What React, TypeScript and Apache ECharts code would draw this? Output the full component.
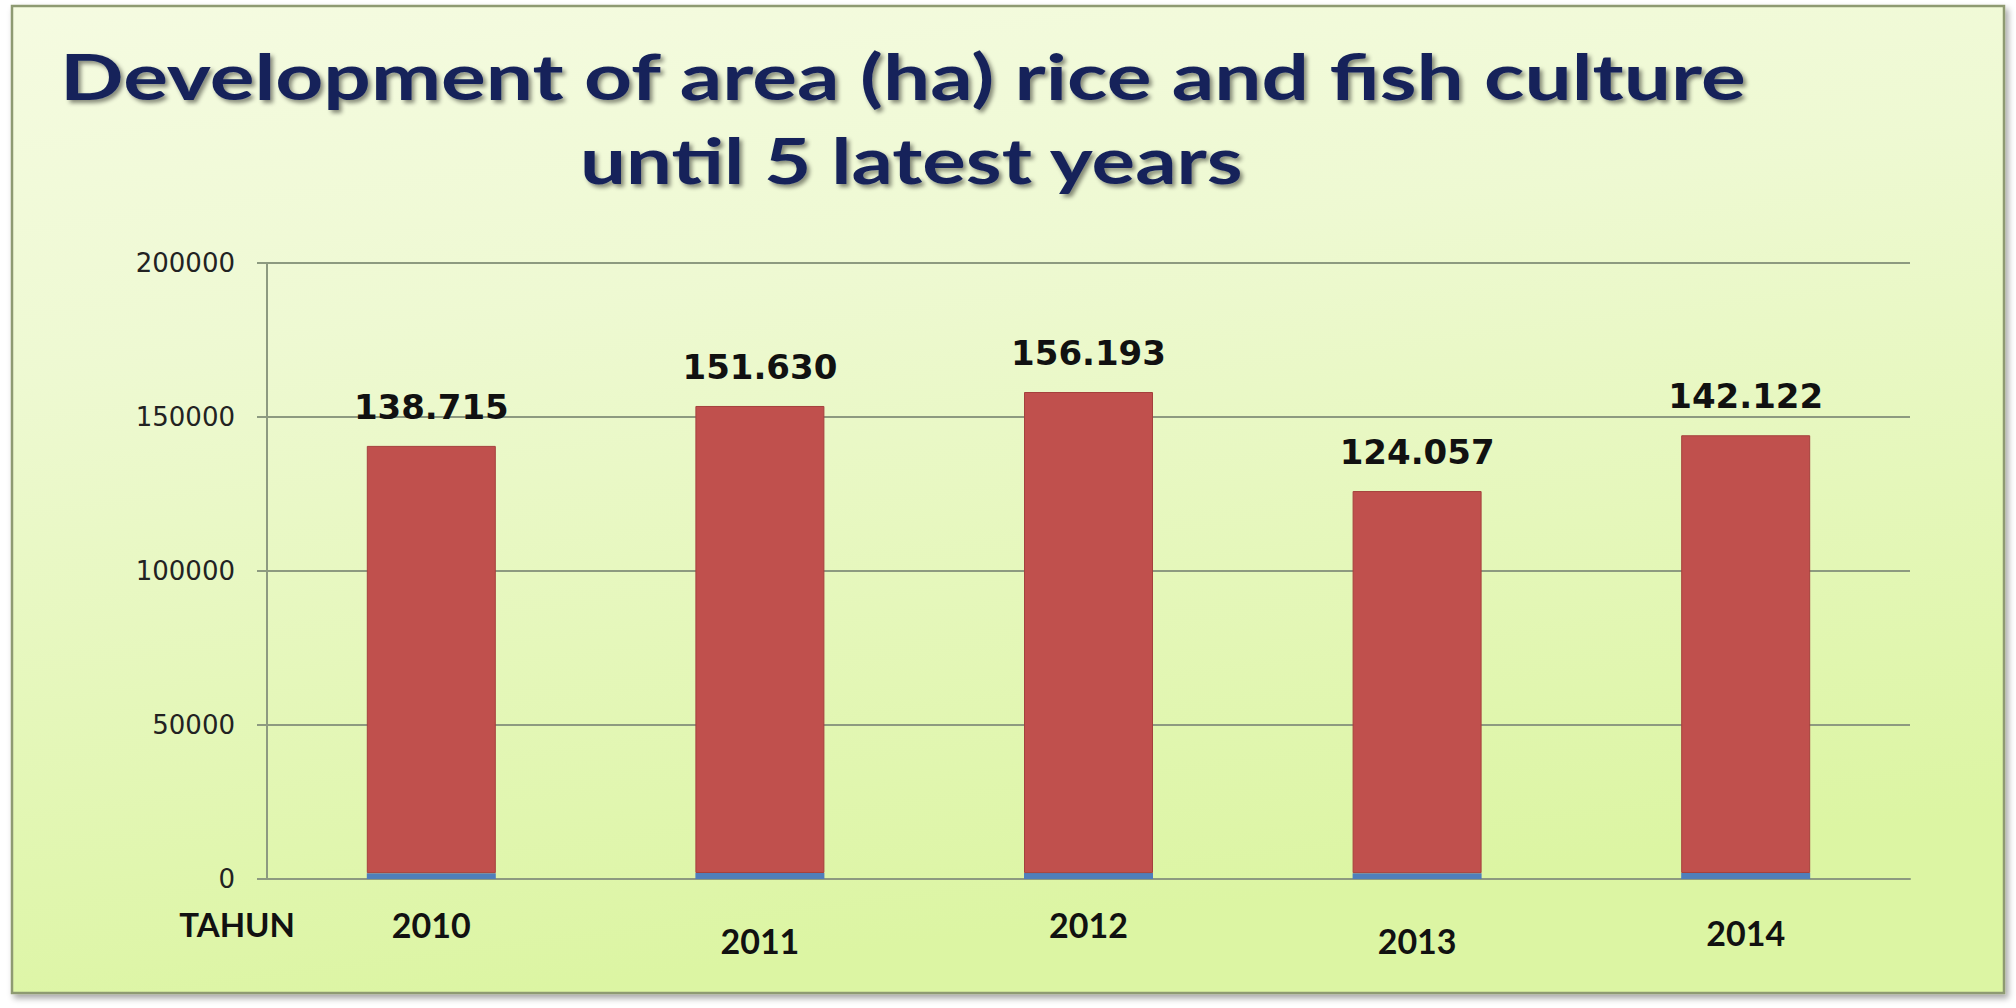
import React, { useEffect, useRef } from "react";
import * as echarts from "echarts";

const categories = ["2010", "2011", "2012", "2013", "2014"];
const riceFishArea = [138715, 151630, 156193, 124057, 142122];
const baseArea = [1900, 1950, 1920, 1900, 1950];
const yMin = 0;
const yMax = 200000;
const yStep = 50000;
const titleLines = ["Development of area (ha) rice and fish culture", "until 5 latest years"];
const axisName = "TAHUN";

const TITLE_FONT = 'bold 64px "Lato"';

function measureText(text: string, font: string): number {
  const ctx = document.createElement("canvas").getContext("2d");
  if (!ctx) return 1;
  ctx.font = font;
  return ctx.measureText(text).width || 1;
}

function formatDots(v: number): string {
  return String(Math.round(v)).replace(/\B(?=(\d{3})+(?!\d))/g, ".");
}

export default function App() {
  const ref = useRef<HTMLDivElement>(null);

  useEffect(() => {
    if (!ref.current) return;
    const chart = echarts.init(ref.current, null, { renderer: "svg" });

    const line1Width = measureText(titleLines[0], TITLE_FONT);
    const line2Width = measureText(titleLines[1], TITLE_FONT);
    const l1 = { x: 60, w: 1688, y: 75 };
    const l2 = { x: 580, w: 665, y: 160 };

    const gridColor = "#8d9a80";

    const titleStyle = {
      fill: "#16245a",
      font: TITLE_FONT,
      textAlign: "left",
      textVerticalAlign: "middle",
      textShadowColor: "rgba(0,0,0,0.45)",
      textShadowBlur: 4,
      textShadowOffsetX: 3,
      textShadowOffsetY: 3,
    };

    chart.setOption({
      animation: false,
      backgroundColor: "#ffffff",
      graphic: [
        {
          type: "rect",
          z: -10,
          silent: true,
          shape: { x: 12, y: 6, width: 1992, height: 987 },
          style: {
            fill: {
              type: "linear",
              x: 0,
              y: 0,
              x2: 0.25,
              y2: 1,
              colorStops: [
                { offset: 0, color: "#f5fbe1" },
                { offset: 0.35, color: "#eef9d2" },
                { offset: 1, color: "#dcf5a3" },
              ],
            },
            stroke: "#8e9a72",
            lineWidth: 2.5,
            shadowColor: "rgba(0,0,0,0.35)",
            shadowBlur: 6,
            shadowOffsetX: 3,
            shadowOffsetY: 4,
          },
        },
        {
          type: "text",
          x: l1.x,
          y: l1.y,
          scaleX: l1.w / line1Width,
          scaleY: 1,
          style: { ...titleStyle, text: titleLines[0] },
        },
        {
          type: "text",
          x: l2.x,
          y: l2.y,
          scaleX: l2.w / line2Width,
          scaleY: 1,
          style: { ...titleStyle, text: titleLines[1] },
        },
        {
          type: "text",
          x: 295,
          y: 924,
          style: {
            text: axisName,
            fill: "#111111",
            font: 'bold 33px "Lato"',
            textAlign: "right",
            textVerticalAlign: "middle",
          },
        },
      ],
      grid: { left: 267, right: 106, top: 263, bottom: 129 },
      xAxis: {
        type: "category",
        data: categories,
        axisTick: { show: false },
        axisLine: { lineStyle: { color: gridColor, width: 2 } },
        axisLabel: {
          margin: 28,
          formatter: (value: string, idx: number) =>
            idx === 1 || idx === 3 ? `{lo|${value}}` : idx === 4 ? `{mid|${value}}` : `{hi|${value}}`,
          rich: {
            hi: { fontFamily: "Lato", fontWeight: "bold", fontSize: 34, color: "#111111", padding: [0, 0, 0, 0] },
            mid: { fontFamily: "Lato", fontWeight: "bold", fontSize: 34, color: "#111111", padding: [8, 0, 0, 0] },
            lo: { fontFamily: "Lato", fontWeight: "bold", fontSize: 34, color: "#111111", padding: [16, 0, 0, 0] },
          },
        },
      },
      yAxis: {
        type: "value",
        min: yMin,
        max: yMax,
        interval: yStep,
        axisLine: { show: true, lineStyle: { color: gridColor, width: 2 } },
        axisTick: { show: true, length: 10, lineStyle: { color: gridColor, width: 2 } },
        splitLine: { show: true, lineStyle: { color: gridColor, width: 2 } },
        axisLabel: {
          margin: 32,
          fontFamily: "DejaVu Sans",
          fontSize: 26,
          color: "#222222",
          formatter: (v: number) => String(v),
        },
      },
      series: [
        {
          name: "base",
          type: "bar",
          stack: "area",
          barWidth: 129,
          data: baseArea,
          itemStyle: { color: "#4f7fbb" },
        },
        {
          name: "area",
          type: "bar",
          stack: "area",
          barWidth: 129,
          data: riceFishArea,
          itemStyle: { color: "#c0504d", borderColor: "#a5403d", borderWidth: 1 },
          label: {
            show: true,
            position: "top",
            distance: 22,
            fontFamily: "DejaVu Sans",
            fontWeight: "bold",
            fontSize: 34,
            color: "#111111",
            formatter: (p: any) => formatDots(p.value),
          },
        },
      ],
    });

    return () => chart.dispose();
  }, []);

  return (
    <div
      ref={ref}
      style={{ position: "fixed", left: 0, top: 0, width: 2016, height: 1008 }}
    />
  );
}
